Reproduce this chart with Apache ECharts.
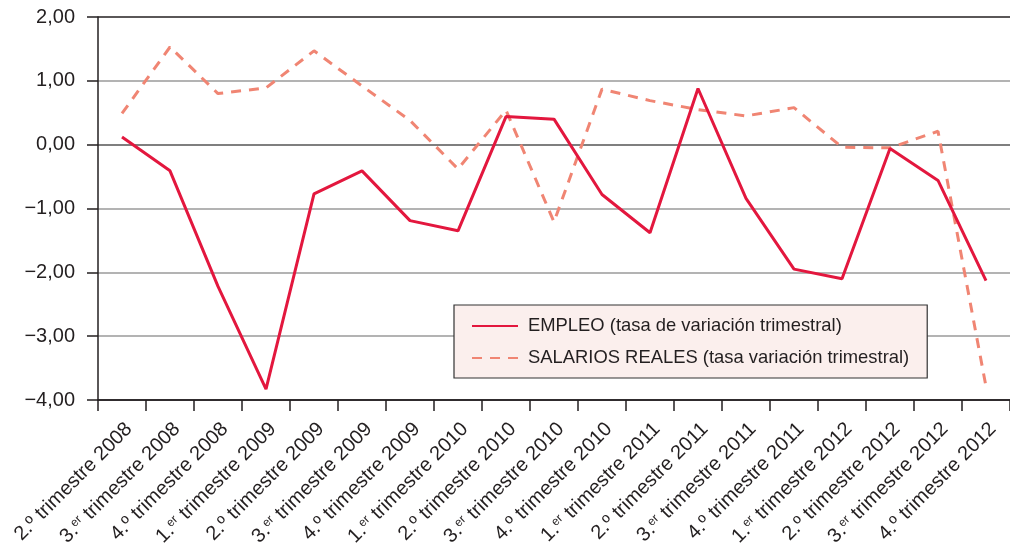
<!DOCTYPE html>
<html>
<head>
<meta charset="utf-8">
<script src="https://cdn.jsdelivr.net/npm/echarts@6/dist/echarts.min.js"></script>
<style>
html,body{margin:0;padding:0;background:#fff;}
#chart{width:1010px;height:550px;}
</style>
</head>
<body>
<div id="chart"></div>
<script>
const categories = [
  '2.º trimestre 2008', '3.er trimestre 2008', '4.º trimestre 2008',
  '1.er trimestre 2009', '2.º trimestre 2009', '3.er trimestre 2009', '4.º trimestre 2009',
  '1.er trimestre 2010', '2.º trimestre 2010', '3.er trimestre 2010', '4.º trimestre 2010',
  '1.er trimestre 2011', '2.º trimestre 2011', '3.er trimestre 2011', '4.º trimestre 2011',
  '1.er trimestre 2012', '2.º trimestre 2012', '3.er trimestre 2012', '4.º trimestre 2012'
];
const empleo = [0.12, -0.41, -2.22, -3.83, -0.77, -0.41, -1.19, -1.35, 0.44, 0.40, -0.78, -1.38, 0.88, -0.84, -1.95, -2.10, -0.06, -0.56, -2.13];
const salarios = [0.49, 1.53, 0.80, 0.89, 1.47, 0.92, 0.38, -0.38, 0.54, -1.21, 0.87, 0.69, 0.55, 0.45, 0.58, -0.04, -0.05, 0.21, -3.79];
const seriesNames = ['EMPLEO (tasa de variación trimestral)', 'SALARIOS REALES (tasa variación trimestral)'];
const yTickLabels = ['−4,00', '−3,00', '−2,00', '−1,00', '0,00', '1,00', '2,00'];
const yMin = -4, yMax = 2, yInterval = 1;

const FONT = '"Liberation Sans", Arial, Helvetica, sans-serif';
const TXT = '#231f20';

function richLabel(s) {
  const m = s.match(/^(\d\.)(er)(.*)$/);
  if (m) return '{a|' + m[1] + '}{s|' + m[2] + '}{a|' + m[3] + '}';
  return '{a|' + s + '}';
}

const chart = echarts.init(document.getElementById('chart'), null, {renderer: 'canvas'});
chart.setOption({
  animation: false,
  backgroundColor: '#ffffff',
  grid: {left: 98, top: 17, bottom: 150, width: 921.5, containLabel: false},
  legend: {
    orient: 'vertical',
    left: 454, top: 305,
    padding: [12, 18, 11, 17],
    itemGap: 14,
    itemWidth: 46, itemHeight: 14,
    itemStyle: {opacity: 0},
    backgroundColor: '#fbefed',
    borderColor: '#333333', borderWidth: 1.2,
    textStyle: {fontFamily: FONT, fontSize: 18.4, color: TXT, padding: [0, 0, 0, 5]},
    data: seriesNames
  },
  xAxis: {
    type: 'category',
    data: categories,
    boundaryGap: true,
    axisLine: {onZero: false, lineStyle: {color: TXT, width: 1.5}},
    axisTick: {show: true, length: 11, inside: false, lineStyle: {color: TXT, width: 1.5}},
    axisLabel: {
      interval: 0, rotate: 45, margin: 19, verticalAlign: 'top',
      formatter: richLabel,
      rich: {
        a: {fontFamily: FONT, fontSize: 20, color: TXT},
        s: {fontFamily: FONT, fontSize: 12, color: TXT, verticalAlign: 'top'}
      }
    },
    splitLine: {show: false}
  },
  yAxis: {
    type: 'value',
    min: yMin, max: yMax, interval: yInterval,
    axisLine: {show: true, lineStyle: {color: TXT, width: 1.5}},
    axisTick: {show: true, length: 11, lineStyle: {color: TXT, width: 1.5}},
    axisLabel: {
      margin: 23, fontFamily: FONT, fontSize: 20, color: TXT,
      formatter: function (v) { return yTickLabels[Math.round((v - yMin) / yInterval)]; }
    },
    splitLine: {show: true, lineStyle: {color: [TXT, '#9a9a9a', '#9a9a9a', '#9a9a9a', '#555555', '#9a9a9a', TXT], width: 1.5}}
  },
  series: [
    {
      name: seriesNames[0], type: 'line', data: empleo,
      symbol: 'none', color: '#e3173e',
      lineStyle: {color: '#e3173e', width: 3}, z: 3
    },
    {
      name: seriesNames[1], type: 'line', data: salarios,
      symbol: 'none', color: '#f08573',
      lineStyle: {color: '#f08573', width: 3, type: [10, 8]}, z: 2
    }
  ]
});
</script>
</body>
</html>
